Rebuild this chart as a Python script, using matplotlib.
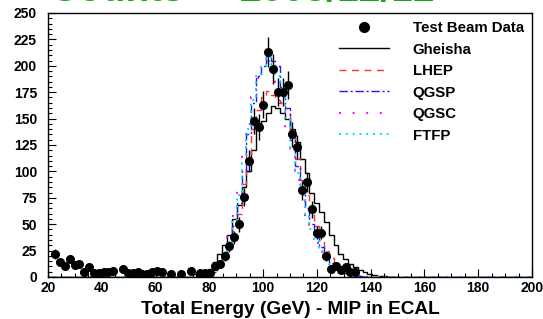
import numpy as np
import matplotlib
matplotlib.use("Agg")
import matplotlib.pyplot as plt
from matplotlib.lines import Line2D
from matplotlib.ticker import MultipleLocator

plt.rcParams['font.family'] = ['Liberation Sans', 'DejaVu Sans']
plt.rcParams['font.weight'] = 'bold'

# 100 bins of 1.8 GeV between 20 and 200
nbins = 100
edges = np.linspace(20, 200, nbins + 1)
centers = 0.5 * (edges[:-1] + edges[1:])

# test beam data, bins 1..63 (0 = empty bin)
data_first = 1
data_counts = [22, 14, 10, 17, 11, 12, 5, 9, 4, 4, 4.5, 5, 6, 0, 8, 3.5, 4, 5, 3, 3,
               5, 6, 4.5, 0, 2.5, 0, 3, 0, 5.5, 0, 4, 4, 4, 10, 12, 20, 29, 37.6, 50, 75.5,
               110, 148, 142, 163, 213, 197, 175, 175, 182, 135, 123, 82, 90, 64, 42, 42, 20, 8, 10, 7,
               9, 5, 5]

# simulation histograms, starting at bin 30 (74.9 GeV)
sim_first = 30
gheisha = [3, 4, 6, 8, 14, 22, 30, 40, 55, 68, 85, 100, 120, 140, 148, 155, 162, 160, 155, 150,
           140, 128, 112, 98, 80, 70, 62, 52, 40, 30, 22, 17, 12, 9, 7, 5, 3, 2, 1, 1]
lhep = [0, 1, 2, 3, 6, 12, 18, 30, 45, 60, 88, 115, 140, 158, 170, 176, 172, 168, 165, 155,
        135, 112, 92, 78, 62, 48, 35, 25, 18, 12, 8, 6, 5, 3, 2, 1, 0, 0, 0, 0]
qgsp = [0, 1, 2, 3, 5, 10, 18, 30, 48, 70, 100, 135, 165, 190, 200, 210, 205, 200, 180, 160,
        130, 105, 82, 65, 50, 38, 28, 20, 13, 9, 6, 4, 3, 2, 1, 0, 0, 0, 0, 0]
qgsc = [0, 1, 2, 4, 8, 14, 24, 38, 58, 85, 115, 145, 170, 188, 202, 205, 195, 182, 165, 140,
        115, 92, 72, 55, 42, 32, 24, 17, 12, 8, 5, 4, 2, 2, 1, 0, 0, 0, 0, 0]
ftfp = [0, 1, 2, 3, 7, 12, 20, 33, 52, 78, 108, 140, 168, 190, 200, 208, 200, 190, 172, 150,
        122, 98, 78, 60, 45, 34, 25, 17, 12, 8, 5, 3, 2, 1, 0, 0, 0, 0, 0, 0]


def full(vals, first):
    h = np.zeros(nbins)
    h[first:first + len(vals)] = vals
    return h


fig = plt.figure(figsize=(5.43, 3.19), dpi=100)
ax = fig.add_axes([0.0884, 0.1317, 0.8913, 0.8276])

ax.stairs(full(gheisha, sim_first), edges, color='black', lw=1.0, label='Gheisha')
ax.stairs(full(lhep, sim_first), edges, color='#ff3030', lw=1.0, ls=(0, (5, 4)), label='LHEP')
ax.stairs(full(qgsp, sim_first), edges, color='#1a1aff', lw=1.0, ls=(0, (6, 2, 1.5, 2)), label='QGSP')
ax.stairs(full(qgsc, sim_first), edges, color='#ff00ff', lw=1.4, ls=(0, (1, 6)), label='QGSC')
ax.stairs(full(ftfp, sim_first), edges, color='#00e5e5', lw=1.4, ls=(0, (1, 2.5)), label='FTFP')

d = full(data_counts, data_first)
d[d == 0] = np.nan
ax.errorbar(centers, d, yerr=np.sqrt(d), fmt='o', color='black', ms=5.5, lw=1.0,
            elinewidth=1.0, capsize=0, zorder=5)

ax.set_xlim(20, 200)
ax.set_ylim(0, 250)
ax.xaxis.set_major_locator(MultipleLocator(20))
ax.xaxis.set_minor_locator(MultipleLocator(5))
ax.yaxis.set_major_locator(MultipleLocator(25))
ax.yaxis.set_minor_locator(MultipleLocator(5))
ax.tick_params(which='both', direction='in', top=False, right=False, labelsize=10)
ax.tick_params(which='major', length=6, width=0.8)
ax.tick_params(which='minor', length=3, width=0.8)
ax.tick_params(axis='y', pad=8)
ax.tick_params(axis='x', pad=3)
for s in ax.spines.values():
    s.set_linewidth(1.0)

ax.set_xlabel('Total Energy (GeV) - MIP in ECAL', fontsize=13.7, fontweight='bold', labelpad=4)

handles, labels = ax.get_legend_handles_labels()
data_handle = Line2D([], [], ls='none', marker='o', color='black', ms=7)
leg = ax.legend([data_handle] + handles, ['Test Beam Data'] + labels,
                loc='upper right', bbox_to_anchor=(1.0, 1.0), fontsize=10.8,
                frameon=True, fancybox=False, edgecolor='none', facecolor='white', framealpha=1,
                handlelength=3.3, handletextpad=1.6, labelspacing=0.5, borderaxespad=0.25,
                borderpad=0.3)

# title sits mostly above the canvas, only its lower edge shows
fig.text(0.092, 0.9965, 'Counts  -  2005/12/12', color='#18a818', fontsize=28,
         fontweight='bold', va='baseline', ha='left')

fig.savefig('out.png', dpi=100)
